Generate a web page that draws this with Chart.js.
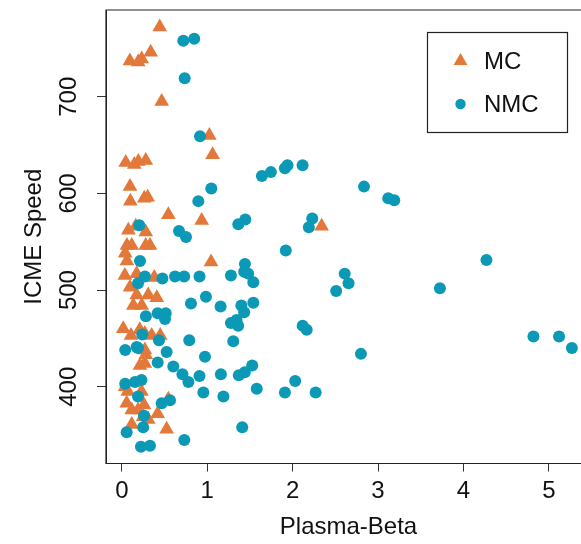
<!DOCTYPE html>
<html>
<head>
<meta charset="utf-8">
<script src="https://cdn.jsdelivr.net/npm/chart.js@4.4.1/dist/chart.umd.min.js"></script>
<style>
  html, body { margin: 0; padding: 0; background: #ffffff; overflow: hidden; }
  #wrap { width: 600px; height: 544px; }
</style>
</head>
<body>
<div id="wrap"><canvas id="chart" width="600" height="544"></canvas></div>
<script>
// Plasma beta vs. ICME speed, split into magnetic clouds (MC) and non-MC events.
const seriesNames = ['MC', 'NMC'];

const mcBeta = [
  0.444, 0.095, 0.192, 0.233, 0.338, 0.467, 1.025, 1.063,
  0.046, 0.147, 0.194, 0.280, 0.096, 0.100, 0.263, 0.303,
  0.545, 0.935, 0.077, 0.163, 0.280, 0.060, 0.116, 0.280,
  0.330, 2.340, 1.045, 0.040, 0.060, 0.036, 0.174, 0.380,
  0.096, 0.174, 0.310, 0.410, 0.135, 0.233, 0.017, 0.210,
  0.270, 0.108, 0.350, 0.450, 0.270, 0.213, 0.270, 0.280,
  0.040, 0.070, 0.230, 0.057, 0.116, 0.190, 0.260, 0.250,
  0.310, 0.545, 0.420, 0.116, 0.525
];
const mcSpeed = [
  772, 737, 736, 739, 746, 695, 660, 640,
  632, 630, 633, 634, 607, 592, 595, 596,
  578, 572, 562, 566, 560, 546, 546, 546,
  546, 566, 529, 538, 530, 515, 517, 513,
  503, 495, 495, 492, 484, 484, 460, 459,
  455, 453, 453, 453, 438, 422, 424, 433,
  400, 395, 395, 383, 376, 376, 381, 369,
  366, 387, 372, 361, 356
];

const nmcBeta = [
  0.720, 0.848, 0.736, 0.916, 1.048, 0.896, 1.364, 1.446,
  0.205, 0.670, 0.752, 1.640, 1.746, 1.910, 1.940, 2.117,
  2.836, 3.120, 3.190, 2.230, 2.190, 1.920, 2.610, 2.655,
  2.510, 3.725, 4.270, 2.118, 2.165, 2.800, 4.820, 5.120,
  5.270, 2.030, 1.910, 2.270, 0.213, 0.270, 0.190, 0.475,
  0.623, 0.730, 0.910, 0.810, 0.985, 0.282, 0.420, 0.514,
  0.506, 0.240, 0.435, 0.790, 0.040, 0.174, 0.190, 0.525,
  0.420, 0.603, 0.710, 0.780, 0.910, 0.955, 0.040, 0.155,
  0.230, 0.190, 0.467, 0.564, 0.260, 0.250, 0.057, 0.732,
  0.224, 0.330, 1.278, 1.442, 1.433, 1.480, 1.540, 1.157,
  1.400, 1.433, 1.540, 1.278, 1.344, 1.363, 1.305, 0.974,
  1.160, 1.370, 1.440, 1.527, 1.190, 1.580, 1.410
];
const nmcSpeed = [
  758, 760, 719, 659, 605, 592, 568, 573,
  567, 561, 555, 618, 622, 626, 629, 629,
  607, 595, 593, 574, 565, 541, 517, 507,
  499, 502, 531, 463, 459, 434, 452, 452,
  440, 406, 394, 394, 530, 514, 507, 512,
  514, 514, 514, 486, 493, 473, 476, 476,
  470, 454, 448, 448, 438, 441, 440, 436,
  425, 421, 413, 405, 411, 394, 403, 405,
  407, 390, 383, 386, 370, 358, 353, 345,
  338, 339, 515, 527, 519, 517, 508, 483,
  484, 477, 487, 466, 469, 463, 447, 431,
  413, 412, 415, 422, 390, 398, 358
];

const xTickValues = [0, 1, 2, 3, 4, 5];
const yTickValues = [400, 500, 600, 700];
const xTitle = 'Plasma-Beta';
const yTitle = 'ICME Speed';

const MC_COLOR = '#E2783A';
const NMC_COLOR = '#0B99B6';
const FONT = 'Liberation Sans, Arial, sans-serif';

const toPoints = (xs, ys) => xs.map((x, i) => ({ x: x, y: ys[i] }));

// Box around the plotting region (open on the right where the canvas ends).
const framePlugin = {
  id: 'frame',
  afterDatasetsDraw(chart) {
    const { ctx, chartArea: a } = chart;
    ctx.save();
    ctx.strokeStyle = '#222';
    ctx.lineWidth = 1.2;
    ctx.beginPath();
    ctx.moveTo(a.right, a.top);
    ctx.lineTo(a.left, a.top);
    ctx.lineTo(a.left, a.bottom);
    ctx.lineTo(a.right, a.bottom);
    ctx.stroke();
    ctx.restore();
  }
};

// Boxed legend in the upper-right corner, built from the datasets.
const boxLegendPlugin = {
  id: 'boxLegend',
  afterDraw(chart) {
    const { ctx } = chart;
    const box = { x: 427, y: 32, w: 140, h: 100 };
    ctx.save();
    ctx.fillStyle = '#ffffff';
    ctx.fillRect(box.x, box.y, box.w, box.h);
    ctx.strokeStyle = '#222';
    ctx.lineWidth = 1.2;
    ctx.strokeRect(box.x + 0.5, box.y + 0.5, box.w, box.h);
    const rows = [61, 104];
    const radii = [8, 5.2];
    chart.data.datasets.slice().sort((a, b) => a.legendIndex - b.legendIndex).forEach((ds, i) => {
      ctx.fillStyle = ds.backgroundColor;
      ctx.strokeStyle = ds.backgroundColor;
      Chart.helpers.drawPoint(ctx, { pointStyle: ds.pointStyle, radius: radii[i], rotation: 0, borderWidth: 0 }, 460.5, rows[i]);
      ctx.fillStyle = '#111';
      ctx.font = '24px ' + FONT;
      ctx.textAlign = 'left';
      ctx.textBaseline = 'middle';
      ctx.fillText(ds.label, 484, rows[i] + 1);
    });
    ctx.restore();
  }
};

// Fixed axis sizes, without the extra room Chart.js reserves for end labels.
const fixSize = (prop, size) => s => {
  s[prop] = size;
  s.paddingTop = 0; s.paddingBottom = 0; s.paddingLeft = 0; s.paddingRight = 0;
};

new Chart(document.getElementById('chart'), {
  type: 'scatter',
  data: {
    datasets: [
      {
        label: seriesNames[0],
        legendIndex: 0,
        order: 1,
        data: toPoints(mcBeta, mcSpeed),
        pointStyle: 'triangle',
        pointRadius: 8.5,
        pointBorderWidth: 0,
        backgroundColor: MC_COLOR,
        borderColor: MC_COLOR
      },
      {
        label: seriesNames[1],
        legendIndex: 1,
        order: 0,
        data: toPoints(nmcBeta, nmcSpeed),
        pointStyle: 'circle',
        pointRadius: 6,
        pointBorderWidth: 0,
        backgroundColor: NMC_COLOR,
        borderColor: NMC_COLOR
      }
    ]
  },
  options: {
    responsive: false,
    animation: false,
    devicePixelRatio: 1,
    layout: { padding: { top: 10, right: 9, bottom: 0, left: 0 } },
    plugins: {
      legend: { display: false },
      tooltip: { enabled: false }
    },
    scales: {
      x: {
        type: 'linear',
        position: 'bottom',
        min: -0.185,
        max: 5.494,
        afterBuildTicks: s => { s.ticks = xTickValues.map(v => ({ value: v })); },
        afterFit: fixSize('height', 80.5),
        grid: { display: true, drawOnChartArea: false, drawTicks: true, tickLength: 8, color: '#333', lineWidth: 1 },
        border: { display: true, color: '#222', width: 1 },
        ticks: {
          autoSkip: false, maxRotation: 0, padding: 5, color: '#111',
          font: { family: FONT, size: 24 },
          callback: v => String(v)
        },
        title: {
          display: true, text: xTitle, color: '#111',
          font: { family: FONT, size: 24 },
          padding: { top: 0, bottom: 2 }
        }
      },
      y: {
        type: 'linear',
        position: 'left',
        min: 320.6,
        max: 789.7,
        afterBuildTicks: s => { s.ticks = yTickValues.map(v => ({ value: v })); },
        afterFit: fixSize('width', 106),
        grid: { display: true, drawOnChartArea: false, drawTicks: true, tickLength: 9, color: '#333', lineWidth: 1 },
        border: { display: true, color: '#222', width: 1 },
        ticks: {
          autoSkip: false, minRotation: 90, maxRotation: 90, crossAlign: 'center', padding: 8, color: '#111',
          font: { family: FONT, size: 24 },
          callback: v => String(v)
        },
        title: {
          display: true, text: yTitle, color: '#111',
          font: { family: FONT, size: 24 },
          padding: { top: 20, bottom: 0 }
        }
      }
    }
  },
  plugins: [framePlugin, boxLegendPlugin]
});
</script>
</body>
</html>
